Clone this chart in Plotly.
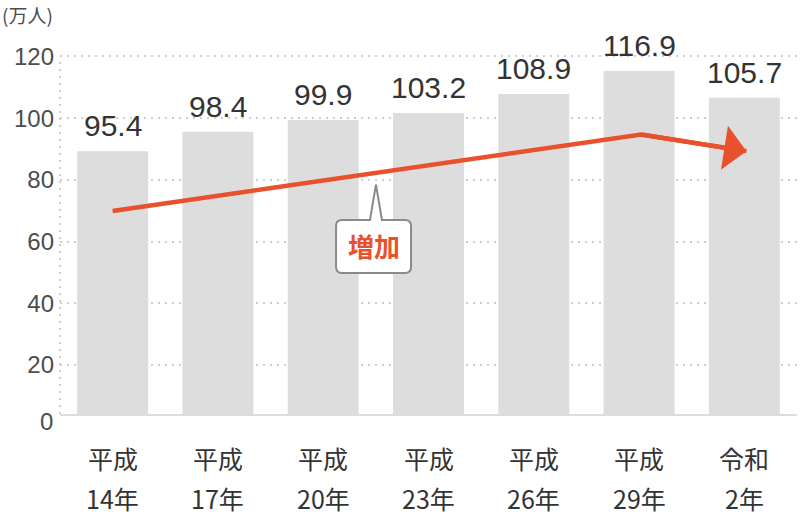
import plotly.graph_objects as go

# ---- data ----
eras = ["平成", "平成", "平成", "平成", "平成", "平成", "令和"]
years = ["14年", "17年", "20年", "23年", "26年", "29年", "2年"]
values = [95.4, 98.4, 99.9, 103.2, 108.9, 116.9, 105.7]          # printed value labels
bar_heights = [89.3, 95.6, 99.4, 101.7, 107.8, 115.3, 106.6]     # bar heights as drawn
y_ticks = [0, 20, 40, 60, 80, 100, 120]
unit_label = "(万人)"
trend_x = [0, 5.02, 6.02]
trend_y = [69.9, 94.7, 89.3]
callout_text = "増加"

# ---- style ----
BAR = "#dddddd"
ACCENT = "#E8512B"
TXT = "#333333"
TICK = "#4d4d4d"
GRID = "#cfcfcf"
NUM_FONT = "Liberation Sans, Arial, sans-serif"
CJK_FONT = "Noto Sans CJK JP, sans-serif"

xs = list(range(len(years)))

fig = go.Figure()
fig.add_trace(go.Bar(
    x=xs, y=bar_heights, width=0.674,
    marker=dict(color=BAR, line=dict(width=0)),
    hoverinfo="skip", showlegend=False,
))
fig.add_trace(go.Scatter(
    x=trend_x, y=trend_y, mode="lines",
    line=dict(color=ACCENT, width=4.5),
    hoverinfo="skip", showlegend=False,
))

annotations = []
# arrow head on last trend segment
annotations.append(dict(
    x=trend_x[2], y=trend_y[2], ax=trend_x[1], ay=trend_y[1],
    xref="x", yref="y", axref="x", ayref="y", text="",
    showarrow=True, arrowhead=1, arrowsize=1.65, arrowwidth=4.5,
    arrowcolor=ACCENT,
))
# value labels
for x, h, v in zip(xs, bar_heights, values):
    annotations.append(dict(
        x=x, y=h, xref="x", yref="y", text=f"{v}", showarrow=False,
        yanchor="bottom", yshift=7,
        font=dict(family=NUM_FONT, size=30, color=TXT),
    ))
# category labels (two lines)
for x, e, yr in zip(xs, eras, years):
    annotations.append(dict(
        x=x, y=-0.1117, xref="x", yref="paper", text=e, showarrow=False,
        yanchor="middle", font=dict(family=CJK_FONT, size=25, color=TXT),
    ))
    annotations.append(dict(
        x=x, y=-0.2132, xref="x", yref="paper", text=yr, showarrow=False,
        yanchor="middle", font=dict(family=CJK_FONT, size=25, color=TXT),
    ))
# "0" tick label (sits just below the drawn baseline)
annotations.append(dict(
    x=0, y=-0.0203, xref="paper", yref="paper", text=str(y_ticks[0]),
    showarrow=False, xanchor="right", yanchor="middle", xshift=-5,
    font=dict(family=NUM_FONT, size=24, color=TICK),
))
# unit label
annotations.append(dict(
    x=-0.0814, y=1.0127, xref="paper", yref="paper", text=unit_label,
    showarrow=False, xanchor="left", yanchor="middle",
    font=dict(family=CJK_FONT, size=19, color=TICK),
))

# callout box "増加"
cx = 2.478
half_w = 0.356
top, bottom = 67.0, 49.8
tip_x, tip_y = 2.501, 78.4
base_l, base_r = 2.444, 2.558
rx, ry = 0.057, 1.94
left, right = cx - half_w, cx + half_w
path = (
    f"M{left+rx},{top} L{base_l},{top} L{tip_x},{tip_y} L{base_r},{top} "
    f"L{right-rx},{top} Q{right},{top} {right},{top-ry} "
    f"L{right},{bottom+ry} Q{right},{bottom} {right-rx},{bottom} "
    f"L{left+rx},{bottom} Q{left},{bottom} {left},{bottom+ry} "
    f"L{left},{top-ry} Q{left},{top} {left+rx},{top} Z"
)
shapes = [
    dict(type="path", path=path, xref="x", yref="y",
         line=dict(color="#8a8a8a", width=2), fillcolor="white", layer="above"),
    dict(type="line", xref="paper", yref="y", x0=0, x1=0, y0=4.12, y1=y_ticks[-1],
         line=dict(color=GRID, width=2, dash="2px,5px"), layer="below"),
]
annotations.append(dict(
    x=cx, y=58.6, xref="x", yref="y", text=f"<b>{callout_text}</b>",
    showarrow=False, font=dict(family=CJK_FONT, size=26, color=ACCENT),
))

fig.update_layout(
    width=800, height=520,
    margin=dict(l=60, r=3, t=20, b=106),
    paper_bgcolor="white", plot_bgcolor="white",
    bargap=0.326,
    annotations=annotations, shapes=shapes,
    xaxis=dict(
        range=[-0.5, 6.5], showticklabels=False, showgrid=False, zeroline=False,
        showline=True, linecolor=BAR, linewidth=2, ticks="", fixedrange=True,
    ),
    yaxis=dict(
        range=[4.12, 131.8], tickvals=y_ticks[1:], ticktext=[str(t) for t in y_ticks[1:]],
        showgrid=True, gridcolor=GRID, gridwidth=2, griddash="2px,5px",
        zeroline=False, showline=False, ticks="", fixedrange=True,
        tickfont=dict(family=NUM_FONT, size=24, color=TICK),
        ticklabelstandoff=5,
    ),
)

fig.write_html(
    "out.html",
    config={"displayModeBar": False},
    post_script="document.body.style.margin='0';",
)
